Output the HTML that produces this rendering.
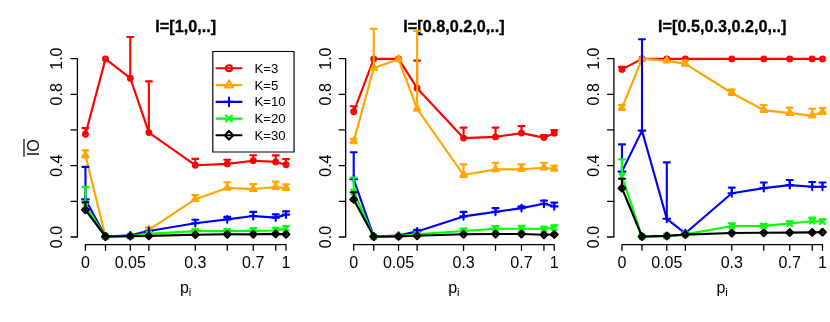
<!DOCTYPE html>
<html><head><meta charset="utf-8"><title>chart</title>
<style>html,body{margin:0;padding:0;background:#fff;}body{width:830px;height:322px;overflow:hidden;position:relative;font-family:"Liberation Sans",sans-serif;}svg{will-change:transform}</style>
</head><body>
<svg width="830" height="322" viewBox="0 0 830 322" style="display:block;position:absolute;left:0;top:0">
<rect width="830" height="322" fill="#fff"/>
<g><path d="M77.40 237.00V58.60M77.40 237.00h-6.4M77.40 201.32h-6.4M77.40 165.64h-6.4M77.40 129.96h-6.4M77.40 94.28h-6.4M77.40 58.60h-6.4M85.45 244.6H286.00M85.45 244.6v5.7M105.51 244.6v5.7M130.29 244.6v5.7M148.87 244.6v5.7M195.30 244.6v5.7M227.26 244.6v5.7M253.24 244.6v5.7M275.71 244.6v5.7M286.00 244.6v5.7" fill="none" stroke="#000" stroke-width="1.3" stroke-linecap="round" stroke-linejoin="round"/>
<text transform="translate(62.30 237.00) rotate(-90)" text-anchor="middle" font-family="Liberation Sans, sans-serif" font-size="16">0.0</text>
<text transform="translate(62.30 165.64) rotate(-90)" text-anchor="middle" font-family="Liberation Sans, sans-serif" font-size="16">0.4</text>
<text transform="translate(62.30 94.28) rotate(-90)" text-anchor="middle" font-family="Liberation Sans, sans-serif" font-size="16">0.8</text>
<text transform="translate(62.30 58.60) rotate(-90)" text-anchor="middle" font-family="Liberation Sans, sans-serif" font-size="16">1.0</text>
<text x="85.45" y="268.4" text-anchor="middle" font-family="Liberation Sans, sans-serif" font-size="16">0</text>
<text x="130.29" y="268.4" text-anchor="middle" font-family="Liberation Sans, sans-serif" font-size="16">0.05</text>
<text x="195.30" y="268.4" text-anchor="middle" font-family="Liberation Sans, sans-serif" font-size="16">0.3</text>
<text x="253.24" y="268.4" text-anchor="middle" font-family="Liberation Sans, sans-serif" font-size="16">0.7</text>
<text x="286.00" y="268.4" text-anchor="middle" font-family="Liberation Sans, sans-serif" font-size="16">1</text>
<text x="185.63" y="293.2" text-anchor="middle" font-family="Liberation Sans, sans-serif" font-size="16">p<tspan font-size="11.2" dy="2.6">i</tspan></text>
<text x="185.73" y="31.9" text-anchor="middle" font-family="Liberation Sans, sans-serif" font-size="16.2" font-weight="bold" stroke="#000" stroke-width="0.3">I=[1,0,..]</text></g>
<g><path d="M85.45 134.30L105.51 58.90L130.29 78.20L148.87 132.60L195.30 165.20L227.26 163.90L253.24 160.70L275.71 161.90L286.00 164.80" fill="none" stroke="#ff0000" stroke-width="2.15" stroke-linejoin="round" stroke-linecap="round"/>
<circle cx="85.45" cy="134.30" r="2.40" fill="#ff0000" fill-opacity="0.55" stroke="#ff0000" stroke-width="2.1"/>
<circle cx="105.51" cy="58.90" r="2.40" fill="#ff0000" fill-opacity="0.55" stroke="#ff0000" stroke-width="2.1"/>
<circle cx="130.29" cy="78.20" r="2.40" fill="#ff0000" fill-opacity="0.55" stroke="#ff0000" stroke-width="2.1"/>
<circle cx="148.87" cy="132.60" r="2.40" fill="#ff0000" fill-opacity="0.55" stroke="#ff0000" stroke-width="2.1"/>
<circle cx="195.30" cy="165.20" r="2.40" fill="#ff0000" fill-opacity="0.55" stroke="#ff0000" stroke-width="2.1"/>
<circle cx="227.26" cy="163.90" r="2.40" fill="#ff0000" fill-opacity="0.55" stroke="#ff0000" stroke-width="2.1"/>
<circle cx="253.24" cy="160.70" r="2.40" fill="#ff0000" fill-opacity="0.55" stroke="#ff0000" stroke-width="2.1"/>
<circle cx="275.71" cy="161.90" r="2.40" fill="#ff0000" fill-opacity="0.55" stroke="#ff0000" stroke-width="2.1"/>
<circle cx="286.00" cy="164.80" r="2.40" fill="#ff0000" fill-opacity="0.55" stroke="#ff0000" stroke-width="2.1"/>
<path d="M85.45 134.30V128.10M82.45 128.10H88.45M130.29 78.20V37.00M127.29 37.00H133.29M148.87 132.60V81.40M145.87 81.40H151.87M195.30 165.20V158.90M192.30 158.90H198.30M227.26 163.90V159.70M224.26 159.70H230.26M253.24 160.70V155.20M250.24 155.20H256.24M275.71 161.90V155.40M272.71 155.40H278.71M286.00 164.80V159.10M283.00 159.10H289.00" fill="none" stroke="#ff0000" stroke-width="2.1" stroke-linecap="round"/>
<path d="M85.45 155.50L105.51 236.60L130.29 236.00L148.87 229.80L195.30 199.20L227.26 187.90L253.24 189.10L275.71 187.00L286.00 188.00" fill="none" stroke="#ffa500" stroke-width="2.15" stroke-linejoin="round" stroke-linecap="round"/>
<path d="M85.45 151.77L88.68 157.37L82.22 157.37Z" fill="#ffa500" fill-opacity="0.55" stroke="#ffa500" stroke-width="2.1" stroke-linejoin="round"/>
<path d="M105.51 232.87L108.74 238.47L102.27 238.47Z" fill="#ffa500" fill-opacity="0.55" stroke="#ffa500" stroke-width="2.1" stroke-linejoin="round"/>
<path d="M130.29 232.27L133.53 237.87L127.06 237.87Z" fill="#ffa500" fill-opacity="0.55" stroke="#ffa500" stroke-width="2.1" stroke-linejoin="round"/>
<path d="M148.87 226.07L152.10 231.67L145.64 231.67Z" fill="#ffa500" fill-opacity="0.55" stroke="#ffa500" stroke-width="2.1" stroke-linejoin="round"/>
<path d="M195.30 195.47L198.53 201.07L192.06 201.07Z" fill="#ffa500" fill-opacity="0.55" stroke="#ffa500" stroke-width="2.1" stroke-linejoin="round"/>
<path d="M227.26 184.17L230.49 189.77L224.03 189.77Z" fill="#ffa500" fill-opacity="0.55" stroke="#ffa500" stroke-width="2.1" stroke-linejoin="round"/>
<path d="M253.24 185.37L256.47 190.97L250.01 190.97Z" fill="#ffa500" fill-opacity="0.55" stroke="#ffa500" stroke-width="2.1" stroke-linejoin="round"/>
<path d="M275.71 183.27L278.94 188.87L272.48 188.87Z" fill="#ffa500" fill-opacity="0.55" stroke="#ffa500" stroke-width="2.1" stroke-linejoin="round"/>
<path d="M286.00 184.27L289.23 189.87L282.77 189.87Z" fill="#ffa500" fill-opacity="0.55" stroke="#ffa500" stroke-width="2.1" stroke-linejoin="round"/>
<path d="M85.45 155.50V150.40M82.45 150.40H88.45M148.87 229.80V227.40M145.87 227.40H151.87M195.30 199.20V195.00M192.30 195.00H198.30M227.26 187.90V182.30M224.26 182.30H230.26M253.24 189.10V184.10M250.24 184.10H256.24M275.71 187.00V181.60M272.71 181.60H278.71M286.00 188.00V184.40M283.00 184.40H289.00" fill="none" stroke="#ffa500" stroke-width="2.1" stroke-linecap="round"/>
<path d="M85.45 199.40L105.51 236.60L130.29 235.40L148.87 231.00L195.30 223.20L227.26 219.40L253.24 216.00L275.71 217.60L286.00 214.60" fill="none" stroke="#0000ff" stroke-width="2.15" stroke-linejoin="round" stroke-linecap="round"/>
<path d="M82.06 199.40H88.84M85.45 196.01V202.79" fill="none" stroke="#0000ff" stroke-width="2.1" stroke-linecap="round"/>
<path d="M102.11 236.60H108.90M105.51 233.21V239.99" fill="none" stroke="#0000ff" stroke-width="2.1" stroke-linecap="round"/>
<path d="M126.90 235.40H133.69M130.29 232.01V238.79" fill="none" stroke="#0000ff" stroke-width="2.1" stroke-linecap="round"/>
<path d="M145.48 231.00H152.26M148.87 227.61V234.39" fill="none" stroke="#0000ff" stroke-width="2.1" stroke-linecap="round"/>
<path d="M191.90 223.20H198.69M195.30 219.81V226.59" fill="none" stroke="#0000ff" stroke-width="2.1" stroke-linecap="round"/>
<path d="M223.87 219.40H230.65M227.26 216.01V222.79" fill="none" stroke="#0000ff" stroke-width="2.1" stroke-linecap="round"/>
<path d="M249.85 216.00H256.64M253.24 212.61V219.39" fill="none" stroke="#0000ff" stroke-width="2.1" stroke-linecap="round"/>
<path d="M272.31 217.60H279.10M275.71 214.21V220.99" fill="none" stroke="#0000ff" stroke-width="2.1" stroke-linecap="round"/>
<path d="M282.61 214.60H289.39M286.00 211.21V217.99" fill="none" stroke="#0000ff" stroke-width="2.1" stroke-linecap="round"/>
<path d="M85.45 199.40V166.90M82.45 166.90H88.45M195.30 223.20V219.80M192.30 219.80H198.30M227.26 219.40V216.90M224.26 216.90H230.26M253.24 216.00V211.90M250.24 211.90H256.24M275.71 217.60V214.40M272.71 214.40H278.71M286.00 214.60V211.40M283.00 211.40H289.00" fill="none" stroke="#0000ff" stroke-width="2.1" stroke-linecap="round"/>
<path d="M85.45 205.70L105.51 236.60L130.29 236.00L148.87 233.80L195.30 231.10L227.26 231.10L253.24 230.90L275.71 230.50L286.00 228.40" fill="none" stroke="#00ff00" stroke-width="2.15" stroke-linejoin="round" stroke-linecap="round"/>
<path d="M83.05 203.30L87.85 208.10M83.05 208.10L87.85 203.30" fill="none" stroke="#00ff00" stroke-width="2.1" stroke-linecap="round"/>
<path d="M103.11 234.20L107.91 239.00M103.11 239.00L107.91 234.20" fill="none" stroke="#00ff00" stroke-width="2.1" stroke-linecap="round"/>
<path d="M127.89 233.60L132.69 238.40M127.89 238.40L132.69 233.60" fill="none" stroke="#00ff00" stroke-width="2.1" stroke-linecap="round"/>
<path d="M146.47 231.40L151.27 236.20M146.47 236.20L151.27 231.40" fill="none" stroke="#00ff00" stroke-width="2.1" stroke-linecap="round"/>
<path d="M192.90 228.70L197.70 233.50M192.90 233.50L197.70 228.70" fill="none" stroke="#00ff00" stroke-width="2.1" stroke-linecap="round"/>
<path d="M224.86 228.70L229.66 233.50M224.86 233.50L229.66 228.70" fill="none" stroke="#00ff00" stroke-width="2.1" stroke-linecap="round"/>
<path d="M250.84 228.50L255.64 233.30M250.84 233.30L255.64 228.50" fill="none" stroke="#00ff00" stroke-width="2.1" stroke-linecap="round"/>
<path d="M273.31 228.10L278.11 232.90M273.31 232.90L278.11 228.10" fill="none" stroke="#00ff00" stroke-width="2.1" stroke-linecap="round"/>
<path d="M283.60 226.00L288.40 230.80M283.60 230.80L288.40 226.00" fill="none" stroke="#00ff00" stroke-width="2.1" stroke-linecap="round"/>
<path d="M85.45 205.70V186.90M82.45 186.90H88.45M195.30 231.10V229.30M192.30 229.30H198.30M227.26 231.10V229.30M224.26 229.30H230.26M253.24 230.90V228.00M250.24 228.00H256.24M275.71 230.50V227.70M272.71 227.70H278.71M286.00 228.40V226.00M283.00 226.00H289.00" fill="none" stroke="#00ff00" stroke-width="2.1" stroke-linecap="round"/>
<path d="M85.45 209.80L105.51 236.50L130.29 236.20L148.87 235.90L195.30 234.70L227.26 234.30L253.24 234.30L275.71 233.90L286.00 234.30" fill="none" stroke="#000000" stroke-width="2.15" stroke-linejoin="round" stroke-linecap="round"/>
<path d="M82.06 209.80L85.45 206.41L88.84 209.80L85.45 213.19Z" fill="#000000" fill-opacity="0.55" stroke="#000000" stroke-width="2.1" stroke-linejoin="round"/>
<path d="M102.11 236.50L105.51 233.11L108.90 236.50L105.51 239.89Z" fill="#000000" fill-opacity="0.55" stroke="#000000" stroke-width="2.1" stroke-linejoin="round"/>
<path d="M126.90 236.20L130.29 232.81L133.69 236.20L130.29 239.59Z" fill="#000000" fill-opacity="0.55" stroke="#000000" stroke-width="2.1" stroke-linejoin="round"/>
<path d="M145.48 235.90L148.87 232.51L152.26 235.90L148.87 239.29Z" fill="#000000" fill-opacity="0.55" stroke="#000000" stroke-width="2.1" stroke-linejoin="round"/>
<path d="M191.90 234.70L195.30 231.31L198.69 234.70L195.30 238.09Z" fill="#000000" fill-opacity="0.55" stroke="#000000" stroke-width="2.1" stroke-linejoin="round"/>
<path d="M223.87 234.30L227.26 230.91L230.65 234.30L227.26 237.69Z" fill="#000000" fill-opacity="0.55" stroke="#000000" stroke-width="2.1" stroke-linejoin="round"/>
<path d="M249.85 234.30L253.24 230.91L256.64 234.30L253.24 237.69Z" fill="#000000" fill-opacity="0.55" stroke="#000000" stroke-width="2.1" stroke-linejoin="round"/>
<path d="M272.31 233.90L275.71 230.51L279.10 233.90L275.71 237.29Z" fill="#000000" fill-opacity="0.55" stroke="#000000" stroke-width="2.1" stroke-linejoin="round"/>
<path d="M282.61 234.30L286.00 230.91L289.39 234.30L286.00 237.69Z" fill="#000000" fill-opacity="0.55" stroke="#000000" stroke-width="2.1" stroke-linejoin="round"/>
<path d="M85.45 209.80V202.30M82.45 202.30H88.45" fill="none" stroke="#000000" stroke-width="2.1" stroke-linecap="round"/></g>
<g><path d="M345.65 237.00V58.60M345.65 237.00h-6.4M345.65 201.32h-6.4M345.65 165.64h-6.4M345.65 129.96h-6.4M345.65 94.28h-6.4M345.65 58.60h-6.4M353.70 244.6H554.25M353.70 244.6v5.7M373.75 244.6v5.7M398.54 244.6v5.7M417.12 244.6v5.7M463.55 244.6v5.7M495.51 244.6v5.7M521.49 244.6v5.7M543.96 244.6v5.7M554.25 244.6v5.7" fill="none" stroke="#000" stroke-width="1.3" stroke-linecap="round" stroke-linejoin="round"/>
<text transform="translate(330.55 237.00) rotate(-90)" text-anchor="middle" font-family="Liberation Sans, sans-serif" font-size="16">0.0</text>
<text transform="translate(330.55 165.64) rotate(-90)" text-anchor="middle" font-family="Liberation Sans, sans-serif" font-size="16">0.4</text>
<text transform="translate(330.55 94.28) rotate(-90)" text-anchor="middle" font-family="Liberation Sans, sans-serif" font-size="16">0.8</text>
<text transform="translate(330.55 58.60) rotate(-90)" text-anchor="middle" font-family="Liberation Sans, sans-serif" font-size="16">1.0</text>
<text x="353.70" y="268.4" text-anchor="middle" font-family="Liberation Sans, sans-serif" font-size="16">0</text>
<text x="398.54" y="268.4" text-anchor="middle" font-family="Liberation Sans, sans-serif" font-size="16">0.05</text>
<text x="463.55" y="268.4" text-anchor="middle" font-family="Liberation Sans, sans-serif" font-size="16">0.3</text>
<text x="521.49" y="268.4" text-anchor="middle" font-family="Liberation Sans, sans-serif" font-size="16">0.7</text>
<text x="554.25" y="268.4" text-anchor="middle" font-family="Liberation Sans, sans-serif" font-size="16">1</text>
<text x="453.88" y="293.2" text-anchor="middle" font-family="Liberation Sans, sans-serif" font-size="16">p<tspan font-size="11.2" dy="2.6">i</tspan></text>
<text x="453.98" y="31.9" text-anchor="middle" font-family="Liberation Sans, sans-serif" font-size="16.2" font-weight="bold" stroke="#000" stroke-width="0.3">I=[0.8,0.2,0,..]</text></g>
<g><path d="M353.70 111.80L373.75 58.90L398.54 58.90L417.12 88.20L463.55 138.10L495.51 136.90L521.49 133.10L543.96 137.60L554.25 133.30" fill="none" stroke="#ff0000" stroke-width="2.15" stroke-linejoin="round" stroke-linecap="round"/>
<circle cx="353.70" cy="111.80" r="2.40" fill="#ff0000" fill-opacity="0.55" stroke="#ff0000" stroke-width="2.1"/>
<circle cx="373.75" cy="58.90" r="2.40" fill="#ff0000" fill-opacity="0.55" stroke="#ff0000" stroke-width="2.1"/>
<circle cx="398.54" cy="58.90" r="2.40" fill="#ff0000" fill-opacity="0.55" stroke="#ff0000" stroke-width="2.1"/>
<circle cx="417.12" cy="88.20" r="2.40" fill="#ff0000" fill-opacity="0.55" stroke="#ff0000" stroke-width="2.1"/>
<circle cx="463.55" cy="138.10" r="2.40" fill="#ff0000" fill-opacity="0.55" stroke="#ff0000" stroke-width="2.1"/>
<circle cx="495.51" cy="136.90" r="2.40" fill="#ff0000" fill-opacity="0.55" stroke="#ff0000" stroke-width="2.1"/>
<circle cx="521.49" cy="133.10" r="2.40" fill="#ff0000" fill-opacity="0.55" stroke="#ff0000" stroke-width="2.1"/>
<circle cx="543.96" cy="137.60" r="2.40" fill="#ff0000" fill-opacity="0.55" stroke="#ff0000" stroke-width="2.1"/>
<circle cx="554.25" cy="133.30" r="2.40" fill="#ff0000" fill-opacity="0.55" stroke="#ff0000" stroke-width="2.1"/>
<path d="M353.70 111.80V106.30M350.70 106.30H356.70M417.12 88.20V60.60M414.12 60.60H420.12M463.55 138.10V127.60M460.55 127.60H466.55M495.51 136.90V127.60M492.51 127.60H498.51M521.49 133.10V126.10M518.49 126.10H524.49M543.96 137.60V135.10M540.96 135.10H546.96M554.25 133.30V130.10M551.25 130.10H557.25" fill="none" stroke="#ff0000" stroke-width="2.1" stroke-linecap="round"/>
<path d="M353.70 141.40L373.75 68.10L398.54 59.20L417.12 108.80L463.55 175.00L495.51 169.40L521.49 169.20L543.96 167.70L554.25 168.90" fill="none" stroke="#ffa500" stroke-width="2.15" stroke-linejoin="round" stroke-linecap="round"/>
<path d="M353.70 137.67L356.93 143.27L350.47 143.27Z" fill="#ffa500" fill-opacity="0.55" stroke="#ffa500" stroke-width="2.1" stroke-linejoin="round"/>
<path d="M373.75 64.37L376.99 69.97L370.52 69.97Z" fill="#ffa500" fill-opacity="0.55" stroke="#ffa500" stroke-width="2.1" stroke-linejoin="round"/>
<path d="M398.54 55.47L401.78 61.07L395.31 61.07Z" fill="#ffa500" fill-opacity="0.55" stroke="#ffa500" stroke-width="2.1" stroke-linejoin="round"/>
<path d="M417.12 105.07L420.35 110.67L413.89 110.67Z" fill="#ffa500" fill-opacity="0.55" stroke="#ffa500" stroke-width="2.1" stroke-linejoin="round"/>
<path d="M463.55 171.27L466.78 176.87L460.31 176.87Z" fill="#ffa500" fill-opacity="0.55" stroke="#ffa500" stroke-width="2.1" stroke-linejoin="round"/>
<path d="M495.51 165.67L498.74 171.27L492.28 171.27Z" fill="#ffa500" fill-opacity="0.55" stroke="#ffa500" stroke-width="2.1" stroke-linejoin="round"/>
<path d="M521.49 165.47L524.72 171.07L518.26 171.07Z" fill="#ffa500" fill-opacity="0.55" stroke="#ffa500" stroke-width="2.1" stroke-linejoin="round"/>
<path d="M543.96 163.97L547.19 169.57L540.73 169.57Z" fill="#ffa500" fill-opacity="0.55" stroke="#ffa500" stroke-width="2.1" stroke-linejoin="round"/>
<path d="M554.25 165.17L557.48 170.77L551.02 170.77Z" fill="#ffa500" fill-opacity="0.55" stroke="#ffa500" stroke-width="2.1" stroke-linejoin="round"/>
<path d="M353.70 141.40V138.90M350.70 138.90H356.70M373.75 68.10V28.80M370.75 28.80H376.75M417.12 108.80V30.90M414.12 30.90H420.12M463.55 175.00V164.40M460.55 164.40H466.55M495.51 169.40V162.70M492.51 162.70H498.51M521.49 169.20V164.40M518.49 164.40H524.49M543.96 167.70V162.70M540.96 162.70H546.96M554.25 168.90V165.70M551.25 165.70H557.25" fill="none" stroke="#ffa500" stroke-width="2.1" stroke-linecap="round"/>
<path d="M353.70 179.30L373.75 236.60L398.54 235.60L417.12 231.40L463.55 216.40L495.51 211.90L521.49 208.10L543.96 203.80L554.25 206.40" fill="none" stroke="#0000ff" stroke-width="2.15" stroke-linejoin="round" stroke-linecap="round"/>
<path d="M350.31 179.30H357.09M353.70 175.91V182.69" fill="none" stroke="#0000ff" stroke-width="2.1" stroke-linecap="round"/>
<path d="M370.36 236.60H377.15M373.75 233.21V239.99" fill="none" stroke="#0000ff" stroke-width="2.1" stroke-linecap="round"/>
<path d="M395.15 235.60H401.94M398.54 232.21V238.99" fill="none" stroke="#0000ff" stroke-width="2.1" stroke-linecap="round"/>
<path d="M413.73 231.40H420.51M417.12 228.01V234.79" fill="none" stroke="#0000ff" stroke-width="2.1" stroke-linecap="round"/>
<path d="M460.15 216.40H466.94M463.55 213.01V219.79" fill="none" stroke="#0000ff" stroke-width="2.1" stroke-linecap="round"/>
<path d="M492.12 211.90H498.90M495.51 208.51V215.29" fill="none" stroke="#0000ff" stroke-width="2.1" stroke-linecap="round"/>
<path d="M518.10 208.10H524.89M521.49 204.71V211.49" fill="none" stroke="#0000ff" stroke-width="2.1" stroke-linecap="round"/>
<path d="M540.56 203.80H547.35M543.96 200.41V207.19" fill="none" stroke="#0000ff" stroke-width="2.1" stroke-linecap="round"/>
<path d="M550.86 206.40H557.64M554.25 203.01V209.79" fill="none" stroke="#0000ff" stroke-width="2.1" stroke-linecap="round"/>
<path d="M353.70 179.30V152.20M350.70 152.20H356.70M417.12 231.40V229.70M414.12 229.70H420.12M463.55 216.40V211.90M460.55 211.90H466.55M495.51 211.90V208.10M492.51 208.10H498.51M521.49 208.10V206.40M518.49 206.40H524.49M543.96 203.80V200.60M540.96 200.60H546.96M554.25 206.40V202.60M551.25 202.60H557.25" fill="none" stroke="#0000ff" stroke-width="2.1" stroke-linecap="round"/>
<path d="M353.70 192.00L373.75 236.60L398.54 236.10L417.12 234.40L463.55 231.00L495.51 228.70L521.49 228.70L543.96 229.00L554.25 227.60" fill="none" stroke="#00ff00" stroke-width="2.15" stroke-linejoin="round" stroke-linecap="round"/>
<path d="M351.30 189.60L356.10 194.40M351.30 194.40L356.10 189.60" fill="none" stroke="#00ff00" stroke-width="2.1" stroke-linecap="round"/>
<path d="M371.36 234.20L376.15 239.00M371.36 239.00L376.15 234.20" fill="none" stroke="#00ff00" stroke-width="2.1" stroke-linecap="round"/>
<path d="M396.14 233.70L400.94 238.50M396.14 238.50L400.94 233.70" fill="none" stroke="#00ff00" stroke-width="2.1" stroke-linecap="round"/>
<path d="M414.72 232.00L419.52 236.80M414.72 236.80L419.52 232.00" fill="none" stroke="#00ff00" stroke-width="2.1" stroke-linecap="round"/>
<path d="M461.15 228.60L465.95 233.40M461.15 233.40L465.95 228.60" fill="none" stroke="#00ff00" stroke-width="2.1" stroke-linecap="round"/>
<path d="M493.11 226.30L497.91 231.10M493.11 231.10L497.91 226.30" fill="none" stroke="#00ff00" stroke-width="2.1" stroke-linecap="round"/>
<path d="M519.09 226.30L523.89 231.10M519.09 231.10L523.89 226.30" fill="none" stroke="#00ff00" stroke-width="2.1" stroke-linecap="round"/>
<path d="M541.56 226.60L546.36 231.40M541.56 231.40L546.36 226.60" fill="none" stroke="#00ff00" stroke-width="2.1" stroke-linecap="round"/>
<path d="M551.85 225.20L556.65 230.00M551.85 230.00L556.65 225.20" fill="none" stroke="#00ff00" stroke-width="2.1" stroke-linecap="round"/>
<path d="M353.70 192.00V177.50M350.70 177.50H356.70M463.55 231.00V228.60M460.55 228.60H466.55M495.51 228.70V226.00M492.51 226.00H498.51M521.49 228.70V225.80M518.49 225.80H524.49M543.96 229.00V226.80M540.96 226.80H546.96M554.25 227.60V225.40M551.25 225.40H557.25" fill="none" stroke="#00ff00" stroke-width="2.1" stroke-linecap="round"/>
<path d="M353.70 199.40L373.75 236.60L398.54 236.40L417.12 235.80L463.55 234.30L495.51 234.00L521.49 234.00L543.96 234.80L554.25 234.40" fill="none" stroke="#000000" stroke-width="2.15" stroke-linejoin="round" stroke-linecap="round"/>
<path d="M350.31 199.40L353.70 196.01L357.09 199.40L353.70 202.79Z" fill="#000000" fill-opacity="0.55" stroke="#000000" stroke-width="2.1" stroke-linejoin="round"/>
<path d="M370.36 236.60L373.75 233.21L377.15 236.60L373.75 239.99Z" fill="#000000" fill-opacity="0.55" stroke="#000000" stroke-width="2.1" stroke-linejoin="round"/>
<path d="M395.15 236.40L398.54 233.01L401.94 236.40L398.54 239.79Z" fill="#000000" fill-opacity="0.55" stroke="#000000" stroke-width="2.1" stroke-linejoin="round"/>
<path d="M413.73 235.80L417.12 232.41L420.51 235.80L417.12 239.19Z" fill="#000000" fill-opacity="0.55" stroke="#000000" stroke-width="2.1" stroke-linejoin="round"/>
<path d="M460.15 234.30L463.55 230.91L466.94 234.30L463.55 237.69Z" fill="#000000" fill-opacity="0.55" stroke="#000000" stroke-width="2.1" stroke-linejoin="round"/>
<path d="M492.12 234.00L495.51 230.61L498.90 234.00L495.51 237.39Z" fill="#000000" fill-opacity="0.55" stroke="#000000" stroke-width="2.1" stroke-linejoin="round"/>
<path d="M518.10 234.00L521.49 230.61L524.89 234.00L521.49 237.39Z" fill="#000000" fill-opacity="0.55" stroke="#000000" stroke-width="2.1" stroke-linejoin="round"/>
<path d="M540.56 234.80L543.96 231.41L547.35 234.80L543.96 238.19Z" fill="#000000" fill-opacity="0.55" stroke="#000000" stroke-width="2.1" stroke-linejoin="round"/>
<path d="M550.86 234.40L554.25 231.01L557.64 234.40L554.25 237.79Z" fill="#000000" fill-opacity="0.55" stroke="#000000" stroke-width="2.1" stroke-linejoin="round"/>
<path d="M353.70 199.40V192.30M350.70 192.30H356.70" fill="none" stroke="#000000" stroke-width="2.1" stroke-linecap="round"/></g>
<g><path d="M613.90 237.00V58.60M613.90 237.00h-6.4M613.90 201.32h-6.4M613.90 165.64h-6.4M613.90 129.96h-6.4M613.90 94.28h-6.4M613.90 58.60h-6.4M621.95 244.6H822.50M621.95 244.6v5.7M642.00 244.6v5.7M666.79 244.6v5.7M685.37 244.6v5.7M731.80 244.6v5.7M763.76 244.6v5.7M789.74 244.6v5.7M812.21 244.6v5.7M822.50 244.6v5.7" fill="none" stroke="#000" stroke-width="1.3" stroke-linecap="round" stroke-linejoin="round"/>
<text transform="translate(598.80 237.00) rotate(-90)" text-anchor="middle" font-family="Liberation Sans, sans-serif" font-size="16">0.0</text>
<text transform="translate(598.80 165.64) rotate(-90)" text-anchor="middle" font-family="Liberation Sans, sans-serif" font-size="16">0.4</text>
<text transform="translate(598.80 94.28) rotate(-90)" text-anchor="middle" font-family="Liberation Sans, sans-serif" font-size="16">0.8</text>
<text transform="translate(598.80 58.60) rotate(-90)" text-anchor="middle" font-family="Liberation Sans, sans-serif" font-size="16">1.0</text>
<text x="621.95" y="268.4" text-anchor="middle" font-family="Liberation Sans, sans-serif" font-size="16">0</text>
<text x="666.79" y="268.4" text-anchor="middle" font-family="Liberation Sans, sans-serif" font-size="16">0.05</text>
<text x="731.80" y="268.4" text-anchor="middle" font-family="Liberation Sans, sans-serif" font-size="16">0.3</text>
<text x="789.74" y="268.4" text-anchor="middle" font-family="Liberation Sans, sans-serif" font-size="16">0.7</text>
<text x="822.50" y="268.4" text-anchor="middle" font-family="Liberation Sans, sans-serif" font-size="16">1</text>
<text x="722.12" y="293.2" text-anchor="middle" font-family="Liberation Sans, sans-serif" font-size="16">p<tspan font-size="11.2" dy="2.6">i</tspan></text>
<text x="722.23" y="31.9" text-anchor="middle" font-family="Liberation Sans, sans-serif" font-size="16.2" font-weight="bold" stroke="#000" stroke-width="0.3">I=[0.5,0.3,0.2,0,..]</text></g>
<g><path d="M621.95 69.40L642.00 58.90L666.79 58.90L685.37 58.90L731.80 58.90L763.76 58.90L789.74 58.90L812.21 58.90L822.50 58.90" fill="none" stroke="#ff0000" stroke-width="2.15" stroke-linejoin="round" stroke-linecap="round"/>
<circle cx="621.95" cy="69.40" r="2.40" fill="#ff0000" fill-opacity="0.55" stroke="#ff0000" stroke-width="2.1"/>
<circle cx="642.00" cy="58.90" r="2.40" fill="#ff0000" fill-opacity="0.55" stroke="#ff0000" stroke-width="2.1"/>
<circle cx="666.79" cy="58.90" r="2.40" fill="#ff0000" fill-opacity="0.55" stroke="#ff0000" stroke-width="2.1"/>
<circle cx="685.37" cy="58.90" r="2.40" fill="#ff0000" fill-opacity="0.55" stroke="#ff0000" stroke-width="2.1"/>
<circle cx="731.80" cy="58.90" r="2.40" fill="#ff0000" fill-opacity="0.55" stroke="#ff0000" stroke-width="2.1"/>
<circle cx="763.76" cy="58.90" r="2.40" fill="#ff0000" fill-opacity="0.55" stroke="#ff0000" stroke-width="2.1"/>
<circle cx="789.74" cy="58.90" r="2.40" fill="#ff0000" fill-opacity="0.55" stroke="#ff0000" stroke-width="2.1"/>
<circle cx="812.21" cy="58.90" r="2.40" fill="#ff0000" fill-opacity="0.55" stroke="#ff0000" stroke-width="2.1"/>
<circle cx="822.50" cy="58.90" r="2.40" fill="#ff0000" fill-opacity="0.55" stroke="#ff0000" stroke-width="2.1"/>
<path d="M621.95 69.40V66.90M618.95 66.90H624.95" fill="none" stroke="#ff0000" stroke-width="2.1" stroke-linecap="round"/>
<path d="M621.95 108.10L642.00 58.90L666.79 60.60L685.37 63.90L731.80 93.00L763.76 110.10L789.74 113.10L812.21 115.60L822.50 112.10" fill="none" stroke="#ffa500" stroke-width="2.15" stroke-linejoin="round" stroke-linecap="round"/>
<path d="M621.95 104.37L625.18 109.97L618.72 109.97Z" fill="#ffa500" fill-opacity="0.55" stroke="#ffa500" stroke-width="2.1" stroke-linejoin="round"/>
<path d="M642.00 55.17L645.24 60.77L638.77 60.77Z" fill="#ffa500" fill-opacity="0.55" stroke="#ffa500" stroke-width="2.1" stroke-linejoin="round"/>
<path d="M666.79 56.87L670.03 62.47L663.56 62.47Z" fill="#ffa500" fill-opacity="0.55" stroke="#ffa500" stroke-width="2.1" stroke-linejoin="round"/>
<path d="M685.37 60.17L688.60 65.77L682.14 65.77Z" fill="#ffa500" fill-opacity="0.55" stroke="#ffa500" stroke-width="2.1" stroke-linejoin="round"/>
<path d="M731.80 89.27L735.03 94.87L728.56 94.87Z" fill="#ffa500" fill-opacity="0.55" stroke="#ffa500" stroke-width="2.1" stroke-linejoin="round"/>
<path d="M763.76 106.37L766.99 111.97L760.53 111.97Z" fill="#ffa500" fill-opacity="0.55" stroke="#ffa500" stroke-width="2.1" stroke-linejoin="round"/>
<path d="M789.74 109.37L792.97 114.97L786.51 114.97Z" fill="#ffa500" fill-opacity="0.55" stroke="#ffa500" stroke-width="2.1" stroke-linejoin="round"/>
<path d="M812.21 111.87L815.44 117.47L808.98 117.47Z" fill="#ffa500" fill-opacity="0.55" stroke="#ffa500" stroke-width="2.1" stroke-linejoin="round"/>
<path d="M822.50 108.37L825.73 113.97L819.27 113.97Z" fill="#ffa500" fill-opacity="0.55" stroke="#ffa500" stroke-width="2.1" stroke-linejoin="round"/>
<path d="M621.95 108.10V105.00M618.95 105.00H624.95M685.37 63.90V60.60M682.37 60.60H688.37M731.80 93.00V89.50M728.80 89.50H734.80M763.76 110.10V105.00M760.76 105.00H766.76M789.74 113.10V107.60M786.74 107.60H792.74M812.21 115.60V108.80M809.21 108.80H815.21M822.50 112.10V108.00M819.50 108.00H825.50" fill="none" stroke="#ffa500" stroke-width="2.1" stroke-linecap="round"/>
<path d="M621.95 171.60L642.00 130.60L666.79 218.80L685.37 233.30L731.80 193.30L763.76 188.10L789.74 185.10L812.21 186.80L822.50 186.80" fill="none" stroke="#0000ff" stroke-width="2.15" stroke-linejoin="round" stroke-linecap="round"/>
<path d="M618.56 171.60H625.34M621.95 168.21V174.99" fill="none" stroke="#0000ff" stroke-width="2.1" stroke-linecap="round"/>
<path d="M638.61 130.60H645.40M642.00 127.21V133.99" fill="none" stroke="#0000ff" stroke-width="2.1" stroke-linecap="round"/>
<path d="M663.40 218.80H670.19M666.79 215.41V222.19" fill="none" stroke="#0000ff" stroke-width="2.1" stroke-linecap="round"/>
<path d="M681.98 233.30H688.76M685.37 229.91V236.69" fill="none" stroke="#0000ff" stroke-width="2.1" stroke-linecap="round"/>
<path d="M728.40 193.30H735.19M731.80 189.91V196.69" fill="none" stroke="#0000ff" stroke-width="2.1" stroke-linecap="round"/>
<path d="M760.37 188.10H767.15M763.76 184.71V191.49" fill="none" stroke="#0000ff" stroke-width="2.1" stroke-linecap="round"/>
<path d="M786.35 185.10H793.14M789.74 181.71V188.49" fill="none" stroke="#0000ff" stroke-width="2.1" stroke-linecap="round"/>
<path d="M808.81 186.80H815.60M812.21 183.41V190.19" fill="none" stroke="#0000ff" stroke-width="2.1" stroke-linecap="round"/>
<path d="M819.11 186.80H825.89M822.50 183.41V190.19" fill="none" stroke="#0000ff" stroke-width="2.1" stroke-linecap="round"/>
<path d="M621.95 171.60V144.40M618.95 144.40H624.95M642.00 130.60V39.30M639.00 39.30H645.00M666.79 218.80V162.40M663.79 162.40H669.79M731.80 193.30V187.60M728.80 187.60H734.80M763.76 188.10V182.50M760.76 182.50H766.76M789.74 185.10V180.00M786.74 180.00H792.74M812.21 186.80V182.00M809.21 182.00H815.21M822.50 186.80V182.50M819.50 182.50H825.50" fill="none" stroke="#0000ff" stroke-width="2.1" stroke-linecap="round"/>
<path d="M621.95 176.50L642.00 236.60L666.79 236.00L685.37 234.40L731.80 226.00L763.76 225.90L789.74 223.50L812.21 221.20L822.50 221.70" fill="none" stroke="#00ff00" stroke-width="2.15" stroke-linejoin="round" stroke-linecap="round"/>
<path d="M619.55 174.10L624.35 178.90M619.55 178.90L624.35 174.10" fill="none" stroke="#00ff00" stroke-width="2.1" stroke-linecap="round"/>
<path d="M639.61 234.20L644.40 239.00M639.61 239.00L644.40 234.20" fill="none" stroke="#00ff00" stroke-width="2.1" stroke-linecap="round"/>
<path d="M664.39 233.60L669.19 238.40M664.39 238.40L669.19 233.60" fill="none" stroke="#00ff00" stroke-width="2.1" stroke-linecap="round"/>
<path d="M682.97 232.00L687.77 236.80M682.97 236.80L687.77 232.00" fill="none" stroke="#00ff00" stroke-width="2.1" stroke-linecap="round"/>
<path d="M729.40 223.60L734.20 228.40M729.40 228.40L734.20 223.60" fill="none" stroke="#00ff00" stroke-width="2.1" stroke-linecap="round"/>
<path d="M761.36 223.50L766.16 228.30M761.36 228.30L766.16 223.50" fill="none" stroke="#00ff00" stroke-width="2.1" stroke-linecap="round"/>
<path d="M787.34 221.10L792.14 225.90M787.34 225.90L792.14 221.10" fill="none" stroke="#00ff00" stroke-width="2.1" stroke-linecap="round"/>
<path d="M809.81 218.80L814.61 223.60M809.81 223.60L814.61 218.80" fill="none" stroke="#00ff00" stroke-width="2.1" stroke-linecap="round"/>
<path d="M820.10 219.30L824.90 224.10M820.10 224.10L824.90 219.30" fill="none" stroke="#00ff00" stroke-width="2.1" stroke-linecap="round"/>
<path d="M621.95 176.50V159.40M618.95 159.40H624.95M731.80 226.00V223.20M728.80 223.20H734.80M763.76 225.90V224.00M760.76 224.00H766.76M789.74 223.50V221.20M786.74 221.20H792.74M812.21 221.20V217.50M809.21 217.50H815.21M822.50 221.70V219.20M819.50 219.20H825.50" fill="none" stroke="#00ff00" stroke-width="2.1" stroke-linecap="round"/>
<path d="M621.95 188.20L642.00 236.60L666.79 235.90L685.37 234.60L731.80 233.00L763.76 232.80L789.74 232.60L812.21 232.40L822.50 232.20" fill="none" stroke="#000000" stroke-width="2.15" stroke-linejoin="round" stroke-linecap="round"/>
<path d="M618.56 188.20L621.95 184.81L625.34 188.20L621.95 191.59Z" fill="#000000" fill-opacity="0.55" stroke="#000000" stroke-width="2.1" stroke-linejoin="round"/>
<path d="M638.61 236.60L642.00 233.21L645.40 236.60L642.00 239.99Z" fill="#000000" fill-opacity="0.55" stroke="#000000" stroke-width="2.1" stroke-linejoin="round"/>
<path d="M663.40 235.90L666.79 232.51L670.19 235.90L666.79 239.29Z" fill="#000000" fill-opacity="0.55" stroke="#000000" stroke-width="2.1" stroke-linejoin="round"/>
<path d="M681.98 234.60L685.37 231.21L688.76 234.60L685.37 237.99Z" fill="#000000" fill-opacity="0.55" stroke="#000000" stroke-width="2.1" stroke-linejoin="round"/>
<path d="M728.40 233.00L731.80 229.61L735.19 233.00L731.80 236.39Z" fill="#000000" fill-opacity="0.55" stroke="#000000" stroke-width="2.1" stroke-linejoin="round"/>
<path d="M760.37 232.80L763.76 229.41L767.15 232.80L763.76 236.19Z" fill="#000000" fill-opacity="0.55" stroke="#000000" stroke-width="2.1" stroke-linejoin="round"/>
<path d="M786.35 232.60L789.74 229.21L793.14 232.60L789.74 235.99Z" fill="#000000" fill-opacity="0.55" stroke="#000000" stroke-width="2.1" stroke-linejoin="round"/>
<path d="M808.81 232.40L812.21 229.01L815.60 232.40L812.21 235.79Z" fill="#000000" fill-opacity="0.55" stroke="#000000" stroke-width="2.1" stroke-linejoin="round"/>
<path d="M819.11 232.20L822.50 228.81L825.89 232.20L822.50 235.59Z" fill="#000000" fill-opacity="0.55" stroke="#000000" stroke-width="2.1" stroke-linejoin="round"/>
<path d="M621.95 188.20V178.80M618.95 178.80H624.95" fill="none" stroke="#000000" stroke-width="2.1" stroke-linecap="round"/></g>
<text transform="translate(38.6 147.8) rotate(-90)" text-anchor="middle" font-family="Liberation Sans, sans-serif" font-size="16">IO</text>
<path d="M24 138.9V156.8" stroke="#000" stroke-width="1.2" fill="none"/>
<rect x="212.8" y="51.5" width="81.25" height="100.50" fill="#fff" stroke="#000" stroke-width="1.2" stroke-linejoin="round"/>
<path d="M216.5 68.2H241.5" stroke="#ff0000" stroke-width="2.1" fill="none" stroke-linecap="round"/>
<circle cx="229.00" cy="68.20" r="3.00" fill="none" stroke="#ff0000" stroke-width="2.1"/>
<text x="254.4" y="72.60" font-family="Liberation Sans, sans-serif" font-size="13.2">K=3</text>
<path d="M216.5 85.1H241.5" stroke="#ffa500" stroke-width="2.1" fill="none" stroke-linecap="round"/>
<path d="M229.00 80.43L233.04 87.43L224.96 87.43Z" fill="none" stroke="#ffa500" stroke-width="2.1" stroke-linejoin="round"/>
<text x="254.4" y="89.50" font-family="Liberation Sans, sans-serif" font-size="13.2">K=5</text>
<path d="M216.5 101.9H241.5" stroke="#0000ff" stroke-width="2.1" fill="none" stroke-linecap="round"/>
<path d="M224.76 101.90H233.24M229.00 97.66V106.14" fill="none" stroke="#0000ff" stroke-width="2.1" stroke-linecap="round"/>
<text x="254.4" y="106.30" font-family="Liberation Sans, sans-serif" font-size="13.2">K=10</text>
<path d="M216.5 118.6H241.5" stroke="#00ff00" stroke-width="2.1" fill="none" stroke-linecap="round"/>
<path d="M226.00 115.60L232.00 121.60M226.00 121.60L232.00 115.60" fill="none" stroke="#00ff00" stroke-width="2.1" stroke-linecap="round"/>
<text x="254.4" y="123.00" font-family="Liberation Sans, sans-serif" font-size="13.2">K=20</text>
<path d="M216.5 135.2H241.5" stroke="#000000" stroke-width="2.1" fill="none" stroke-linecap="round"/>
<path d="M224.76 135.20L229.00 130.96L233.24 135.20L229.00 139.44Z" fill="none" stroke="#000000" stroke-width="2.1" stroke-linejoin="round"/>
<text x="254.4" y="139.60" font-family="Liberation Sans, sans-serif" font-size="13.2">K=30</text>
</svg>
</body></html>
